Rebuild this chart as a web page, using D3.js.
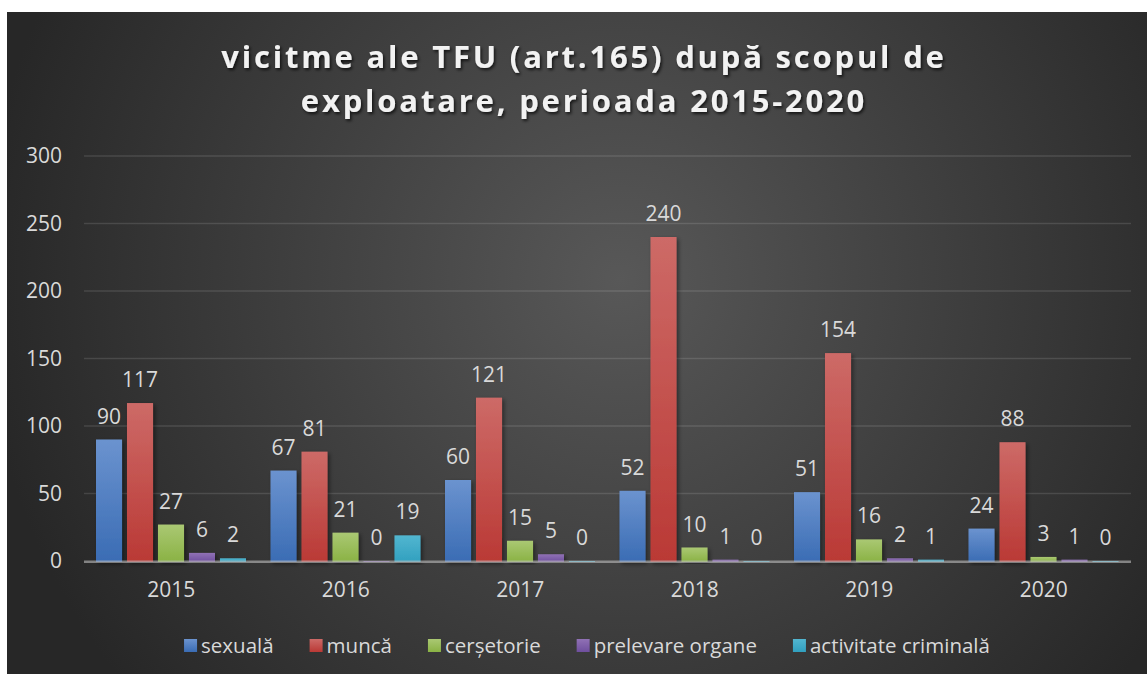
<!DOCTYPE html>
<html>
<head>
<meta charset="utf-8">
<script src="https://cdn.jsdelivr.net/npm/d3@7"></script>
<style>
  body { margin: 0; background: #fff; }
  svg { display: block; }
  text { font-family: "Open Sans", sans-serif; }
</style>
</head>
<body>
<div id="chart"></div>
<script>
'use strict';
var years = ["2015", "2016", "2017", "2018", "2019", "2020"];
var seriesNames = ["sexuală", "muncă", "cerșetorie", "prelevare organe", "activitate criminală"];
var sexuala = [90, 67, 60, 52, 51, 24];
var munca = [117, 81, 121, 240, 154, 88];
var cersetorie = [27, 21, 15, 10, 16, 3];
var prelevare = [6, 0, 5, 1, 2, 1];
var criminala = [2, 19, 0, 0, 1, 0];
var yTicks = [0, 50, 100, 150, 200, 250, 300];

var seriesValues = [sexuala, munca, cersetorie, prelevare, criminala];
var seriesColors = [
    ["#6b93cf", "#3a6cb4"],
    ["#cd6a67", "#ba3935"],
    ["#aac873", "#8ab244"],
    ["#9071b5", "#6f4f9e"],
    ["#52b6d0", "#31a0bf"]
];

var W = 1147, H = 674;
var svg = d3.select("#chart").append("svg")
    .attr("width", W)
    .attr("height", H);

var defs = svg.append("defs");
var bg = defs.append("radialGradient")
    .attr("id", "bg")
    .attr("gradientUnits", "userSpaceOnUse")
    .attr("cx", 620).attr("cy", 280).attr("r", 640);
bg.append("stop").attr("offset", "0").attr("stop-color", "#585858");
bg.append("stop").attr("offset", "1").attr("stop-color", "#272727");

seriesColors.forEach(function (c, i) {
    var g = defs.append("linearGradient")
        .attr("id", "bar" + i)
        .attr("x1", 0).attr("y1", 0).attr("x2", 0).attr("y2", 1);
    g.append("stop").attr("offset", "0").attr("stop-color", c[0]);
    g.append("stop").attr("offset", "1").attr("stop-color", c[1]);
});

var shadow = defs.append("filter").attr("id", "tshadow")
    .attr("x", "-10%").attr("y", "-30%").attr("width", "120%").attr("height", "160%");
shadow.append("feDropShadow")
    .attr("dx", 1.5).attr("dy", 2).attr("stdDeviation", 1.5)
    .attr("flood-color", "#000").attr("flood-opacity", 0.7);

var barShadow = defs.append("filter").attr("id", "bshadow")
    .attr("x", "-30%").attr("y", "-10%").attr("width", "160%").attr("height", "120%");
barShadow.append("feDropShadow")
    .attr("dx", 2).attr("dy", 2).attr("stdDeviation", 2)
    .attr("flood-color", "#000").attr("flood-opacity", 0.45);

// chart background
svg.append("rect")
    .attr("x", 7).attr("y", 12)
    .attr("width", W - 7).attr("height", H - 12)
    .attr("fill", "url(#bg)");

// title
var title = svg.append("text")
    .attr("text-anchor", "middle")
    .attr("fill", "#f2f2f2")
    .attr("font-size", 31)
    .attr("font-weight", "bold")
    .attr("letter-spacing", 2.8)
    .attr("filter", "url(#tshadow)");
title.append("tspan").attr("x", 584).attr("y", 68).text("vicitme ale TFU (art.165) după scopul de");
title.append("tspan").attr("x", 584).attr("y", 112).text("exploatare, perioada 2015-2020");

// scales
var x0 = d3.scaleBand().domain(years).range([84, 1131]);
var x1 = d3.scaleBand().domain(d3.range(seriesNames.length))
    .range([12, x0.bandwidth() - 12.5])
    .paddingInner(0.16);
var y = d3.scaleLinear().domain([0, 300]).range([561, 156]);

// gridlines
svg.append("g")
    .selectAll("line")
    .data(yTicks.slice(1))
    .enter().append("line")
    .attr("x1", 84).attr("x2", 1131)
    .attr("y1", function (d) { return y(d); })
    .attr("y2", function (d) { return y(d); })
    .attr("stroke", "#ffffff")
    .attr("stroke-opacity", 0.12)
    .attr("stroke-width", 1.5);

// y axis
var yAxis = svg.append("g")
    .attr("transform", "translate(62,0)")
    .call(d3.axisLeft(y).tickValues(yTicks).tickSize(0).tickPadding(0));
yAxis.select(".domain").remove();
yAxis.selectAll("text")
    .attr("fill", "#d9d9d9")
    .attr("font-size", 21)
    .style("font-family", "'Open Sans', sans-serif");

// bars
var groups = svg.append("g").selectAll("g")
    .data(years)
    .enter().append("g")
    .attr("transform", function (d) { return "translate(" + x0(d) + ",0)"; });

groups.selectAll("rect")
    .data(function (d, yi) {
        return seriesValues.map(function (vals, si) { return {s: si, v: vals[yi]}; });
    })
    .enter().append("rect")
    .attr("x", function (d) { return x1(d.s); })
    .attr("width", x1.bandwidth())
    .attr("y", function (d) { return y(d.v); })
    .attr("height", function (d) { return y(0) - y(d.v) + 1; })
    .attr("fill", function (d) { return "url(#bar" + d.s + ")"; })
    .attr("filter", "url(#bshadow)");

// baseline (semi-transparent so tiny bars still show)
svg.append("line")
    .attr("x1", 84).attr("x2", 1131)
    .attr("y1", y(0) + 0.8).attr("y2", y(0) + 0.8)
    .attr("stroke", "#bfbfbf")
    .attr("stroke-opacity", 0.6)
    .attr("stroke-width", 2.5);

// value labels
groups.selectAll("text.val")
    .data(function (d, yi) {
        return seriesValues.map(function (vals, si) { return {s: si, v: vals[yi]}; });
    })
    .enter().append("text")
    .attr("class", "val")
    .attr("x", function (d) { return x1(d.s) + x1.bandwidth() / 2; })
    .attr("y", function (d) { return y(d.v) - 16; })
    .attr("text-anchor", "middle")
    .attr("fill", "#d9d9d9")
    .attr("font-size", 21)
    .text(function (d) { return d.v; });

// x axis labels
var xAxis = svg.append("g")
    .attr("transform", "translate(0," + y(0) + ")")
    .call(d3.axisBottom(x0).tickSize(0).tickPadding(21));
xAxis.select(".domain").remove();
xAxis.selectAll("text")
    .attr("fill", "#d9d9d9")
    .attr("font-size", 21)
    .style("font-family", "'Open Sans', sans-serif");

// legend
var legend = svg.append("g");
var items = legend.selectAll("g")
    .data(seriesNames)
    .enter().append("g");
items.append("rect")
    .attr("width", 13).attr("height", 13)
    .attr("y", 639)
    .attr("fill", function (d, i) { return "url(#bar" + i + ")"; });
items.append("text")
    .attr("x", 17)
    .attr("y", 653)
    .attr("fill", "#d9d9d9")
    .attr("font-size", 20.5)
    .text(function (d) { return d; });

var gap = 36, pos = 0, offsets = [];
items.each(function () {
    offsets.push(pos);
    pos += 17 + d3.select(this).select("text").node().getComputedTextLength() + gap;
});
var total = pos - gap;
var start = 587 - total / 2;
items.attr("transform", function (d, i) { return "translate(" + (start + offsets[i]) + ",0)"; });
</script>
</body>
</html>
